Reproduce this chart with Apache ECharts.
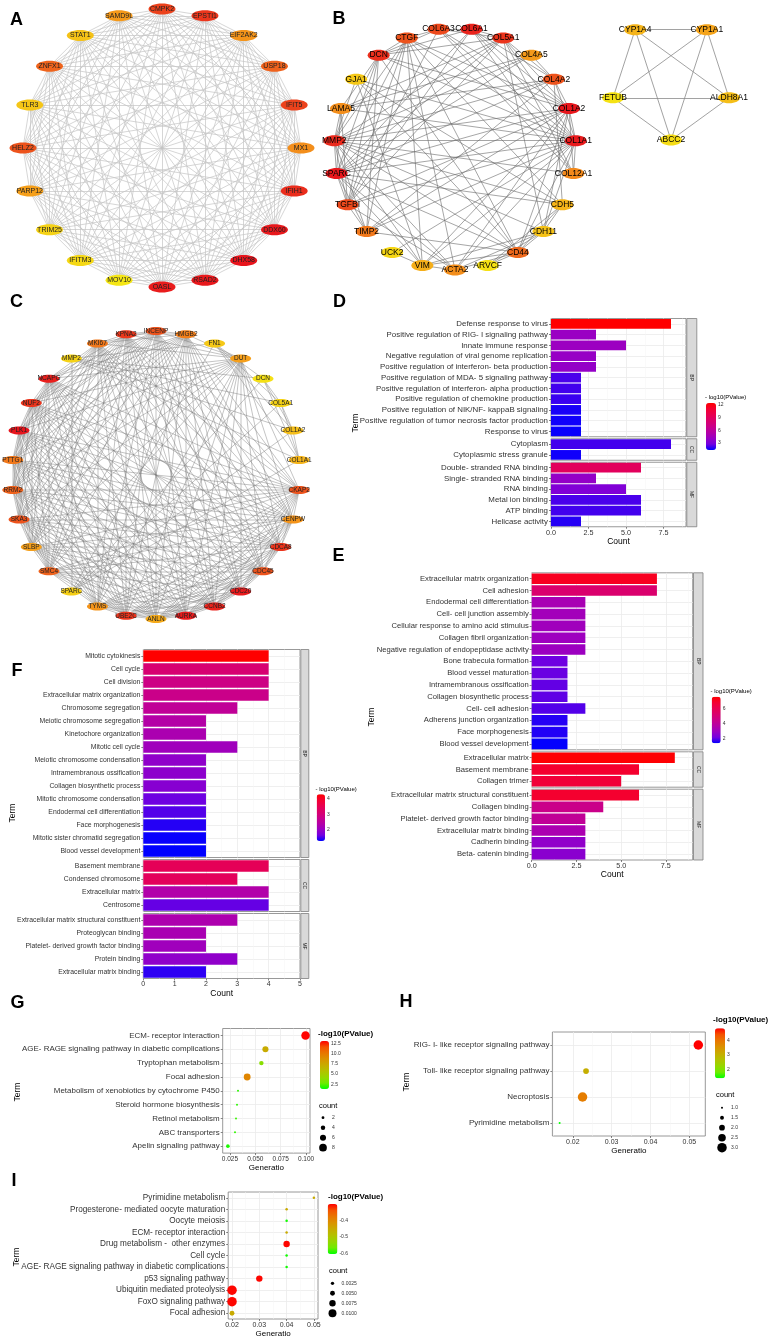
<!DOCTYPE html>
<html><head><meta charset="utf-8">
<script src="https://cdn.jsdelivr.net/npm/echarts@6/dist/echarts.min.js"></script>
<style>html,body{margin:0;padding:0;background:#fff}#c{width:770px;height:1339px}</style>
</head><body><div id="c"></div>
<script>
const FF = '"Liberation Sans", Arial, Helvetica, sans-serif';

// ================= DATA =================
// ---- Panel A network (clockwise from top) ----
const netA_genes = ['CMPK2','EPSTI1','EIF2AK2','USP18','IFIT5','MX1','IFIH1','DDX60','DHX58','RSAD2','OASL','MOV10','IFITM3','TRIM25','PARP12','HELZ2','TLR3','ZNFX1','STAT1','SAMD9L'];
const netA_score = [7.8,8.4,4.0,6.3,7.8,4.3,8.8,9.8,10,9.8,9.6,0,0.7,1.0,3.5,7.0,1.6,6.2,1.8,3.8];
const netA_cliques = [netA_genes];

// ---- Panel B networks (alphabetical, counter-clockwise from bottom) ----
const netB_genes = ['ACTA2','ARVCF','CD44','CDH11','CDH5','COL12A1','COL1A1','COL1A2','COL4A2','COL4A5','COL5A1','COL6A1','COL6A3','CTGF','DCN','GJA1','LAMA5','MMP2','SPARC','TGFBI','TIMP2','UCK2','VIM'];
const netB_score = [4.3,0.3,6.0,1.8,2.5,4.5,9.7,9.9,7.0,3.8,8.5,9.3,7.5,7.0,8.7,1.5,4.3,9.0,9.8,7.5,5.3,0.8,2.8];
const netB_adj = {
  COL1A1: ['COL1A2','COL5A1','COL6A1','COL6A3','COL4A2','COL12A1','CTGF','DCN','MMP2','SPARC','TGFBI','TIMP2','CD44','ACTA2','VIM','CDH11','GJA1','UCK2','LAMA5'],
  COL1A2: ['COL5A1','COL6A1','COL6A3','COL4A2','COL12A1','CTGF','DCN','MMP2','SPARC','TGFBI','TIMP2','CD44','CDH11','VIM','ACTA2'],
  MMP2: ['COL4A2','COL4A5','COL5A1','CTGF','DCN','SPARC','TIMP2','TGFBI','CD44','LAMA5','VIM','ACTA2','CDH5','GJA1','COL12A1','CDH11'],
  SPARC: ['COL4A2','COL4A5','COL5A1','COL6A1','TGFBI','TIMP2','CTGF','DCN','CD44','LAMA5','ACTA2','VIM','CDH5'],
  COL5A1: ['COL6A1','COL6A3','DCN','TGFBI','COL12A1','COL4A2','LAMA5','CDH11'],
  COL6A1: ['COL6A3','DCN','COL12A1','TGFBI','COL4A2'],
  COL6A3: ['DCN','COL12A1','TGFBI','CTGF'],
  COL4A2: ['COL4A5','LAMA5','CDH5','TIMP2'],
  COL4A5: ['LAMA5'],
  CTGF: ['TGFBI','DCN','TIMP2','CD44','VIM','ACTA2','CDH5'],
  DCN: ['TGFBI','TIMP2','CD44','LAMA5'],
  CD44: ['VIM','TIMP2','ACTA2','CDH11','CDH5','GJA1','ARVCF'],
  VIM: ['ACTA2','CDH11','GJA1','UCK2'],
  ACTA2: ['TGFBI','CDH11'],
  CDH5: ['CDH11','ARVCF','GJA1'],
  CDH11: ['ARVCF'],
  TIMP2: ['TGFBI'],
  TGFBI: ['LAMA5']
};
const netB2_genes = ['ABCC2','ALDH8A1','CYP1A1','CYP1A4','FETUB'];
const netB2_score = [0.5,2.0,3.3,2.5,0.2];
const netB2_cliques = [netB2_genes];

// ---- Panel C network (alphabetical, counter-clockwise from bottom) ----
const netC_genes = ['ANLN','AURKA','CCNB2','CDC20','CDC45','CDCA8','CENPW','CKAP2','COL1A1','COL1A2','COL5A1','DCN','DUT','FN1','HMGB2','INCENP','KPNA2','MKI67','MMP2','NCAPG','NUF2','PLK1','PTTG1','RRM2','SKA3','SLBP','SMC4','SPARC','TYMS','UBE2C'];
const netC_score = [3.0,9.7,9.3,9.7,7.0,8.5,4.0,7.0,2.5,2.0,1.0,0.3,3.5,1.5,5.0,7.0,8.3,5.3,1.0,9.5,8.5,10,5.3,6.3,7.0,3.5,6.3,1.2,4.0,8.5];
const netC_core = ['ANLN','AURKA','CCNB2','CDC20','CDC45','CDCA8','CENPW','CKAP2','DUT','HMGB2','INCENP','KPNA2','MKI67','NCAPG','NUF2','PLK1','PTTG1','RRM2','SKA3','SLBP','SMC4','TYMS','UBE2C'];
const netC_ecm = ['COL1A1','COL1A2','COL5A1','DCN','FN1','MMP2','SPARC'];

// ---- Panel D (GO) ----
const D_BP_terms = ['Defense response to virus','Positive regulation of RIG- I signaling pathway','Innate immune response','Negative regulation of viral genome replication','Positive regulation of interferon- beta production','Positive regulation of MDA- 5 signaling pathway','Positive regulation of interferon- alpha production','Positive regulation of chemokine production','Positive regulation of NIK/NF- kappaB signaling','Positive regulation of tumor necrosis factor production','Response to virus'];
const D_BP_count = [8,3,5,3,3,2,2,2,2,2,2];
const D_BP_logp = [12.5,4.1,4.2,4.0,3.9,2.2,2.1,2.0,1.6,1.5,1.4];
const D_CC_terms = ['Cytoplasm','Cytoplasmic stress granule'];
const D_CC_count = [8,2];
const D_CC_logp = [2.1,1.5];
const D_MF_terms = ['Double- stranded RNA binding','Single- stranded RNA binding','RNA binding','Metal ion binding','ATP binding','Helicase activity'];
const D_MF_count = [6,3,5,6,6,2];
const D_MF_logp = [9.1,3.9,3.2,2.2,2.1,1.75];
const D_x_ticks = [0,2.5,5,7.5];
const D_legend_ticks = [3,6,9,12];

// ---- Panel E (GO) ----
const E_BP_terms = ['Extracellular matrix organization','Cell adhesion','Endodermal cell differentiation','Cell- cell junction assembly','Cellular response to amino acid stimulus','Collagen fibril organization','Negative regulation of endopeptidase activity','Bone trabecula formation','Blood vessel maturation','Intramembranous ossification','Collagen biosynthetic process','Cell- cell adhesion','Adherens junction organization','Face morphogenesis','Blood vessel development'];
const E_BP_count = [7,7,3,3,3,3,3,2,2,2,2,3,2,2,2];
const E_BP_logp = [7.05,5.2,3.3,3.13,3.07,3.0,2.95,2.08,2.05,2.0,1.98,1.89,1.58,1.55,1.35];
const E_CC_terms = ['Extracellular matrix','Basement membrane','Collagen trimer'];
const E_CC_count = [8,6,5];
const E_CC_logp = [7.5,6.8,6.6];
const E_MF_terms = ['Extracellular matrix structural constituent','Collagen binding','Platelet- derived growth factor binding','Extracellular matrix binding','Cadherin binding','Beta- catenin binding'];
const E_MF_count = [6,4,3,3,3,3];
const E_MF_logp = [6.8,4.44,4.07,3.38,2.7,2.57];
const E_x_ticks = [0,2.5,5,7.5];
const E_legend_ticks = [2,4,6];

// ---- Panel F (GO) ----
const F_BP_terms = ['Mitotic cytokinesis','Cell cycle','Cell division','Extracellular matrix organization','Chromosome segregation','Meiotic chromosome segregation','Kinetochore organization','Mitotic cell cycle','Meiotic chromosome condensation','Intramembranous ossification','Collagen biosynthetic process','Mitotic chromosome condensation','Endodermal cell differentiation','Face morphogenesis','Mitotic sister chromatid segregation','Blood vessel development'];
const F_BP_count = [4,4,4,4,3,2,2,3,2,2,2,2,2,2,2,2];
const F_BP_logp = [4.3,3.1,2.86,2.8,2.61,2.4,2.28,2.13,1.95,1.92,1.86,1.65,1.56,1.41,1.32,1.29];
const F_CC_terms = ['Basement membrane','Condensed chromosome','Extracellular matrix','Centrosome'];
const F_CC_count = [4,3,4,4];
const F_CC_logp = [3.46,3.4,2.37,1.62];
const F_MF_terms = ['Extracellular matrix structural constituent','Proteoglycan binding','Platelet- derived growth factor binding','Protein binding','Extracellular matrix binding'];
const F_MF_count = [3,2,2,3,2];
const F_MF_logp = [2.31,2.25,2.13,1.95,1.44];
const F_x_ticks = [0,1,2,3,4,5];
const F_legend_ticks = [2,3,4];

// ---- Panel G (KEGG) ----
const G_terms = ['ECM- receptor interaction','AGE- RAGE signaling pathway in diabetic complications','Tryptophan metabolism','Focal adhesion','Metabolism of xenobiotics by cytochrome P450','Steroid hormone biosynthesis','Retinol metabolism','ABC transporters','Apelin signaling pathway'];
const G_ratio = [0.0995,0.060,0.056,0.042,0.033,0.032,0.031,0.030,0.023];
const G_logp = [13.0,7.2,3.7,9.3,1.9,1.9,2.1,2.0,1.7];
const G_count = [9,6,4,7,1,1,1,1,3];
const G_xticks = [0.025,0.05,0.075,0.1];
const G_xminor = [0.0375,0.0625,0.0875];
const G_color_ticks = [2.5,5,7.5,10,12.5];
const G_size_ticks = [2,4,6,8];

// ---- Panel H (KEGG) ----
const H_terms = ['RIG- I- like receptor signaling pathway','Toll- like receptor signaling pathway','Necroptosis','Pyrimidine metabolism'];
const H_ratio = [0.0523,0.0234,0.0225,0.0166];
const H_logp = [4.85,3.06,3.88,1.4];
const H_count = [3,2,3,1];
const H_xticks = [0.02,0.03,0.04,0.05];
const H_xminor = [0.015,0.025,0.035,0.045];
const H_color_ticks = [2,3,4];
const H_size_ticks = [1,1.5,2,2.5,3];

// ---- Panel I (KEGG) ----
const I_terms = ['Pyrimidine metabolism','Progesterone- mediated oocyte maturation','Oocyte meiosis','ECM- receptor interaction','Drug metabolism -  other enzymes','Cell cycle','AGE- RAGE signaling pathway in diabetic complications','p53 signaling pathway','Ubiquitin mediated proteolysis','FoxO signaling pathway','Focal adhesion'];
const I_ratio = [0.05,0.04,0.04,0.04,0.04,0.04,0.04,0.03,0.02,0.02,0.02];
const I_logp = [-0.45,-0.45,-0.6,-0.45,-0.3,-0.6,-0.6,-0.3,-0.3,-0.3,-0.45];
const I_count = [0.0012,0.0012,0.0012,0.0012,0.0075,0.0012,0.0012,0.0075,0.0125,0.0125,0.005];
const I_xticks = [0.02,0.03,0.04,0.05];
const I_xminor = [0.025,0.035,0.045];
const I_color_ticks = [-0.6,-0.5,-0.4];
const I_size_ticks = [0.0025,0.005,0.0075,0.01];

// ================= STYLE =================
const BR = ['#0000FF','#7300E0','#9A00C3','#B500A5','#CA0089','#DA006C','#E80050','#F40031','#FF0000'];
const GR = ['#00FF00','#70EB00','#97D600','#B3C100','#C8AB00','#DA9200','#E87600','#F45300','#FF0000'];
const HEAT = ['#f5e614','#f5a31a','#ee5a1c','#e8141c'];
const HEAT_MAX = 10;
const BORDER = '#7f7f7f', GRIDC = '#ebebeb', MINORC = '#f5f5f5', LAB = '#333';
const ELLIPSE = 'path://M0,5C0,2.24,4.48,0,10,0C15.52,0,20,2.24,20,5C20,7.76,15.52,10,10,10C4.48,10,0,7.76,0,5Z';

const option = {
  animation: false, backgroundColor: '#fff', textStyle: {fontFamily: FF},
  polar: [], angleAxis: [], radiusAxis: [], grid: [], xAxis: [], yAxis: [],
  visualMap: [], series: [], graphic: {elements: []}
};

function txt(text, x, y, o) {
  o = o || {};
  option.graphic.elements.push({type: 'text', x: x, y: y, rotation: o.rot || 0, silent: true, z: 100,
    style: {text: text, fontSize: o.size || 8, fontWeight: o.weight || 'normal', fontFamily: FF,
      fill: o.color || '#000', align: o.align || 'center', verticalAlign: o.va || 'middle'}});
}
function cliqueLinks(groups) {
  const out = [], seen = new Set();
  groups.forEach(g => { for (let i = 0; i < g.length; i++) for (let j = i + 1; j < g.length; j++) {
    const k = [g[i], g[j]].sort().join('|'); if (!seen.has(k)) { seen.add(k); out.push({source: g[i], target: g[j]}); } } });
  return out;
}
function adjLinks(adj) {
  const out = [], seen = new Set();
  Object.keys(adj).forEach(a => adj[a].forEach(b => {
    const k = [a, b].sort().join('|'); if (!seen.has(k)) { seen.add(k); out.push({source: a, target: b}); } }));
  return out;
}

// ---- networks (node colour from score via the library colour interpolation) ----
function addNetwork(c) {
  const pi = option.polar.length;
  option.polar.push({center: c.center, radius: c.radius});
  option.angleAxis.push({polarIndex: pi, type: 'category', data: c.genes, boundaryGap: false,
    startAngle: c.startAngle, clockwise: c.clockwise, show: false});
  option.radiusAxis.push({polarIndex: pi, type: 'value', min: 0, max: 1, show: false});
  option.series.push({type: 'graph', coordinateSystem: 'polar', polarIndex: pi, silent: true,
    symbol: ELLIPSE, symbolSize: c.nodeSize, symbolKeepAspect: false,
    data: c.genes.map((g, i) => ({name: g, value: [1, i],
      itemStyle: {color: echarts.color.lerp(c.score[i] / HEAT_MAX, HEAT)}})),
    links: c.links,
    lineStyle: {color: c.edgeColor, width: c.edgeWidth, opacity: 1, curveness: 0},
    label: {show: true, position: 'inside', fontSize: c.fontSize, color: c.labelColor, fontFamily: FF},
    itemStyle: {borderWidth: 0, opacity: 1}, emphasis: {disabled: true}});
}
addNetwork({genes: netA_genes, score: netA_score, links: cliqueLinks(netA_cliques), center: [162, 148], radius: 139,
  startAngle: 90, clockwise: true, nodeSize: [27, 11], fontSize: 7, labelColor: '#222', edgeColor: '#c4c4c4', edgeWidth: 0.7});
addNetwork({genes: netB_genes, score: netB_score, links: adjLinks(netB_adj), center: [455, 149], radius: 121,
  startAngle: 270, clockwise: false, nodeSize: [22, 11], fontSize: 8.5, labelColor: '#000', edgeColor: '#6a6a6a', edgeWidth: 0.6});
addNetwork({genes: netB2_genes, score: netB2_score, links: cliqueLinks(netB2_cliques), center: [671, 79], radius: 61,
  startAngle: 270, clockwise: false, nodeSize: [22, 11], fontSize: 8.5, labelColor: '#000', edgeColor: '#8a8a8a', edgeWidth: 0.8});
addNetwork({genes: netC_genes, score: netC_score, links: cliqueLinks([netC_core, netC_ecm]), center: [156, 475], radius: 144,
  startAngle: 270, clockwise: false, nodeSize: [21, 8], fontSize: 6.5, labelColor: '#222', edgeColor: '#7a7a7a', edgeWidth: 0.45});

// ---- colour bar legend ----
function addColorbar(vm, sIdx) {
  option.visualMap.push({type: 'continuous', seriesIndex: sIdx, dimension: 2, min: vm.min, max: vm.max,
    inRange: {color: vm.colors}, show: true, left: vm.x, top: vm.y, itemWidth: vm.w, itemHeight: vm.h,
    calculable: false, padding: 0, orient: 'vertical', hoverLink: false});
  const gi = option.grid.length;
  option.grid.push({left: vm.x, top: vm.y, width: vm.w, height: vm.h, show: false, outerBoundsMode: 'none'});
  option.xAxis.push({gridIndex: gi, type: 'value', min: 0, max: 1, show: false});
  option.yAxis.push({gridIndex: gi, type: 'value', min: vm.min, max: vm.max, position: 'right', z: 10,
    axisLine: {show: false}, splitLine: {show: false},
    axisTick: {show: true, inside: true, length: 2, customValues: vm.ticks, lineStyle: {color: '#fff', width: 0.6}},
    axisLabel: {customValues: vm.ticks, fontSize: 5, color: LAB, margin: 2, formatter: vm.fmt, fontFamily: FF}});
  txt(vm.title, vm.tx, vm.ty, {size: vm.tsize, weight: vm.tweight, align: 'left'});
}

// ---- faceted bar chart ----
function addFacetBar(c) {
  let top = c.top;
  const sIdx = [];
  c.panels.forEach((p, k) => {
    const h = p.terms.length * c.u, last = k === c.panels.length - 1;
    const gi = option.grid.length;
    option.grid.push({left: c.left, top: top, width: c.width, height: h, show: true, borderColor: BORDER,
      borderWidth: 0.8, backgroundColor: '#fff', outerBoundsMode: 'none'});
    const xi = option.xAxis.length;
    option.xAxis.push({gridIndex: gi, type: 'value', min: 0, max: c.xMax, interval: c.interval,
      axisLine: {show: false},
      axisTick: {show: last, length: 2, customValues: c.xticks, lineStyle: {color: LAB, width: 0.6}},
      axisLabel: {show: last, customValues: c.xticks, fontSize: c.tickFont, color: LAB, margin: 2.5, formatter: c.fmt, fontFamily: FF},
      splitLine: {show: true, lineStyle: {color: GRIDC, width: 0.8}},
      minorTick: {show: false, splitNumber: 2},
      minorSplitLine: {show: true, lineStyle: {color: MINORC, width: 0.5}},
      name: last ? 'Count' : '', nameLocation: 'middle', nameGap: c.nameGap,
      nameTextStyle: {fontSize: 8.5, color: '#000', fontFamily: FF}});
    const yi = option.yAxis.length;
    option.yAxis.push({gridIndex: gi, type: 'category', inverse: true, data: p.terms,
      axisLine: {show: false},
      axisTick: {show: true, alignWithLabel: true, length: 2, lineStyle: {color: LAB, width: 0.6}},
      axisLabel: {interval: 0, fontSize: c.labelSize, color: LAB, margin: 3, fontFamily: FF},
      splitLine: {show: true, alignWithLabel: true, lineStyle: {color: GRIDC, width: 0.8}}});
    sIdx.push(option.series.length);
    option.series.push({type: 'bar', xAxisIndex: xi, yAxisIndex: yi, silent: true,
      data: p.counts.map((v, i) => [v, i, p.logp[i]]), encode: {x: 0, y: 1},
      barCategoryGap: '10%', itemStyle: {borderWidth: 0}});
    const sx = c.left + c.width + 0.8;
    option.graphic.elements.push({type: 'rect', silent: true, z: 90, shape: {x: sx, y: top, width: c.stripW, height: h},
      style: {fill: '#d9d9d9', stroke: BORDER, lineWidth: 0.8}});
    txt(p.strip, sx + c.stripW / 2, top + h / 2, {size: 5, color: '#1a1a1a', rot: -Math.PI / 2});
    top += h + c.gap;
  });
  addColorbar(c.vm, sIdx);
  txt('Term', c.termX, c.termY, {size: 8.5, rot: Math.PI / 2});
}

const f1 = v => v.toFixed(1);
addFacetBar({left: 551, width: 135, xMax: 9, interval: 2.5, xticks: D_x_ticks, top: 318.5, u: 10.75, gap: 2, labelSize: 7.9, tickFont: 7.2,
  fmt: f1, stripW: 10, nameGap: 10.5, termX: 356, termY: 423,
  panels: [{terms: D_BP_terms, counts: D_BP_count, logp: D_BP_logp, strip: 'BP'},
           {terms: D_CC_terms, counts: D_CC_count, logp: D_CC_logp, strip: 'CC'},
           {terms: D_MF_terms, counts: D_MF_count, logp: D_MF_logp, strip: 'MF'}],
  vm: {min: 1.3, max: 12.5, colors: BR, x: 706, y: 403, w: 10, h: 47, ticks: D_legend_ticks, fmt: v => String(v),
       title: '- log10(PValue)', tx: 705, ty: 397.5, tsize: 6, tweight: 'normal'}});
addFacetBar({left: 531.7, width: 161, xMax: 9, interval: 2.5, xticks: E_x_ticks, top: 572.8, u: 11.8, gap: 2, labelSize: 7.65, tickFont: 7.2,
  fmt: f1, stripW: 9.5, nameGap: 9.5, termX: 372, termY: 717,
  panels: [{terms: E_BP_terms, counts: E_BP_count, logp: E_BP_logp, strip: 'BP'},
           {terms: E_CC_terms, counts: E_CC_count, logp: E_CC_logp, strip: 'CC'},
           {terms: E_MF_terms, counts: E_MF_count, logp: E_MF_logp, strip: 'MF'}],
  vm: {min: 1.33, max: 7.55, colors: BR, x: 711.7, y: 696.7, w: 9, h: 46.6, ticks: E_legend_ticks, fmt: v => String(v),
       title: '- log10(PValue)', tx: 710.5, ty: 691.5, tsize: 6, tweight: 'normal'}});
addFacetBar({left: 143.3, width: 156.7, xMax: 5, interval: 1, xticks: F_x_ticks, top: 649.5, u: 13, gap: 2, labelSize: 6.85, tickFont: 7,
  fmt: v => String(v), stripW: 8, nameGap: 8.5, termX: 13, termY: 813,
  panels: [{terms: F_BP_terms, counts: F_BP_count, logp: F_BP_logp, strip: 'BP'},
           {terms: F_CC_terms, counts: F_CC_count, logp: F_CC_logp, strip: 'CC'},
           {terms: F_MF_terms, counts: F_MF_count, logp: F_MF_logp, strip: 'MF'}],
  vm: {min: 1.29, max: 4.3, colors: BR, x: 316.7, y: 794.3, w: 8.3, h: 46.7, ticks: F_legend_ticks, fmt: v => String(v),
       title: '- log10(PValue)', tx: 315.5, ty: 789, tsize: 6, tweight: 'normal'}});

// ---- dot plots ----
function addDotPlot(c) {
  const gi = option.grid.length;
  option.grid.push({left: c.left, top: c.top, width: c.width, height: c.height, show: true, borderColor: BORDER,
    borderWidth: 0.8, backgroundColor: '#fff', outerBoundsMode: 'none'});
  const xi = option.xAxis.length;
  option.xAxis.push({gridIndex: gi, type: 'value', min: c.xmin, max: c.xmax,
    axisLine: {show: false},
    axisTick: {show: true, length: 2, customValues: c.ticks, lineStyle: {color: LAB, width: 0.6}},
    axisLabel: {customValues: c.ticks, formatter: c.fmt, fontSize: c.tickFont, color: LAB, margin: 2.5, fontFamily: FF},
    splitLine: {show: true, lineStyle: {color: GRIDC, width: 0.8}},
    name: 'Generatio', nameLocation: 'middle', nameGap: c.nameGap, nameTextStyle: {fontSize: 8, color: '#000', fontFamily: FF}});
  option.xAxis.push({gridIndex: gi, type: 'value', min: c.xmin, max: c.xmax, position: 'top',
    axisLine: {show: false}, axisLabel: {show: false},
    axisTick: {show: false, customValues: c.minor},
    splitLine: {show: true, lineStyle: {color: MINORC, width: 0.5}}});
  const yi = option.yAxis.length;
  option.yAxis.push({gridIndex: gi, type: 'category', inverse: true, data: c.terms,
    axisLine: {show: false},
    axisTick: {show: true, alignWithLabel: true, length: 2, lineStyle: {color: LAB, width: 0.6}},
    axisLabel: {interval: 0, fontSize: c.labelSize, color: LAB, margin: 3, fontFamily: FF},
    splitLine: {show: true, alignWithLabel: true, lineStyle: {color: GRIDC, width: 0.8}}});
  const main = option.series.length;
  option.series.push({type: 'scatter', xAxisIndex: xi, yAxisIndex: yi, silent: true, symbol: 'circle',
    data: c.terms.map((t, i) => [c.ratio[i], i, c.logp[i], c.count[i]]), encode: {x: 0, y: 1},
    itemStyle: {opacity: 1}});
  addColorbar(c.vm, [main]);
  const lg = option.grid.length;
  option.grid.push({left: c.sl.x, top: c.sl.y, width: 10, height: c.sizeTicks.length * 10, show: false, outerBoundsMode: 'none'});
  const lx = option.xAxis.length;
  option.xAxis.push({gridIndex: lg, type: 'value', min: -1, max: 1, show: false});
  const ly = option.yAxis.length;
  option.yAxis.push({gridIndex: lg, type: 'category', inverse: true, position: 'right',
    data: c.sizeTicks.map(c.sizeFmt), axisLine: {show: false}, axisTick: {show: false}, splitLine: {show: false},
    axisLabel: {interval: 0, fontSize: 5, color: LAB, margin: 4, fontFamily: FF}});
  const leg = option.series.length;
  option.series.push({type: 'scatter', xAxisIndex: lx, yAxisIndex: ly, silent: true, symbol: 'circle',
    data: c.sizeTicks.map((v, i) => [0, i, 0, v]), encode: {x: 0, y: 1}, itemStyle: {color: '#000', opacity: 1}});
  option.visualMap.push({type: 'continuous', show: false, seriesIndex: [main, leg], dimension: 3,
    min: c.size.min, max: c.size.max, inRange: {symbolSize: c.size.range}});
  txt('count', c.sl.tx, c.sl.ty, {size: 7.5, align: 'left'});
  txt('Term', c.termX, c.termY, {size: 8.5, rot: Math.PI / 2});
}

addDotPlot({terms: G_terms, ratio: G_ratio, logp: G_logp, count: G_count,
  left: 222.7, top: 1028.5, width: 87.3, height: 124.6, xmin: 0.0179, xmax: 0.1039,
  ticks: G_xticks, minor: G_xminor, fmt: v => v.toFixed(3), labelSize: 7.95, tickFont: 6.5, nameGap: 9,
  vm: {min: 1.35, max: 13.06, colors: GR, x: 320, y: 1041, w: 9, h: 48, ticks: G_color_ticks, fmt: v => v.toFixed(1),
       title: '-log10(PValue)', tx: 318, ty: 1034, tsize: 8, tweight: 'bold'},
  size: {min: 1, max: 9, range: [2, 8.5]}, sizeTicks: G_size_ticks, sizeFmt: v => String(v),
  sl: {x: 318, y: 1112.7, tx: 319, ty: 1106}, termX: 18, termY: 1092});
addDotPlot({terms: H_terms, ratio: H_ratio, logp: H_logp, count: H_count,
  left: 552.4, top: 1032, width: 152.9, height: 104, xmin: 0.01474, xmax: 0.0541,
  ticks: H_xticks, minor: H_xminor, fmt: v => v.toFixed(2), labelSize: 8, tickFont: 7, nameGap: 11,
  vm: {min: 1.4, max: 4.85, colors: GR, x: 715, y: 1028.3, w: 10, h: 50, ticks: H_color_ticks, fmt: v => String(v),
       title: '-log10(PValue)', tx: 713, ty: 1020, tsize: 8, tweight: 'bold'},
  size: {min: 1, max: 3, range: [2, 9.5]}, sizeTicks: H_size_ticks, sizeFmt: v => v.toFixed(1),
  sl: {x: 717, y: 1102.7, tx: 716, ty: 1095}, termX: 407, termY: 1082});
addDotPlot({terms: I_terms, ratio: I_ratio, logp: I_logp, count: I_count,
  left: 228.2, top: 1192, width: 89.8, height: 127, xmin: 0.0186, xmax: 0.0515,
  ticks: I_xticks, minor: I_xminor, fmt: v => v.toFixed(2), labelSize: 8.2, tickFont: 7, nameGap: 11,
  vm: {min: -0.605, max: -0.297, colors: GR, x: 327.7, y: 1204, w: 9.7, h: 50, ticks: I_color_ticks, fmt: v => v.toFixed(1),
       title: '-log10(PValue)', tx: 328, ty: 1196.7, tsize: 8, tweight: 'bold'},
  size: {min: 0.0012, max: 0.0125, range: [2.5, 9.5]}, sizeTicks: I_size_ticks, sizeFmt: v => v.toFixed(4),
  sl: {x: 327.5, y: 1278.3, tx: 329, ty: 1271}, termX: 17, termY: 1257});

// ---- panel letters ----
[['A',16.5,20],['B',339,19.5],['C',16.5,302.5],['D',339.5,302],['E',338.5,556.5],['F',17,671],['G',17.5,1003],['H',406,1002.5],['I',14,1181.5]]
  .forEach(l => txt(l[0], l[1], l[2], {size: 18, weight: 'bold'}));

const chart = echarts.init(document.getElementById('c'), null, {renderer: 'canvas'});
chart.setOption(option);
</script></body></html>
